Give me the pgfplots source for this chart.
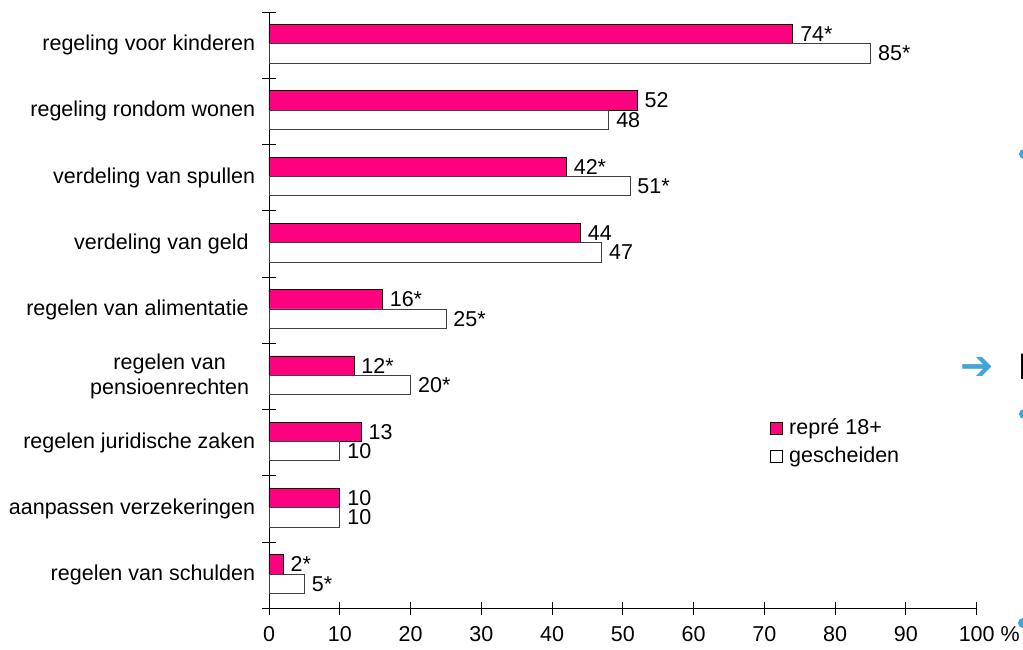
\documentclass[border=0pt]{standalone}
\usepackage{fontspec}
\setmainfont{Liberation Sans}
\newfontfamily\symfont{DejaVu Sans}
\usepackage{pgfplots}
\pgfplotsset{compat=1.18}
\definecolor{barpink}{RGB}{255,0,128}
\definecolor{slideblue}{RGB}{66,165,218}
\pgfplotsset{
  legsq/.style={legend image code/.code={
    \draw[##1,draw=black,line width=0.8pt] (0pt,-6pt) rectangle (12pt,6pt);
    \path (17pt,0pt);}}
}
\begin{document}
\fontsize{21.5}{25}\selectfont
\begin{tikzpicture}[x=1pt,y=1pt]
\useasboundingbox (0,0) rectangle (1023,650);
\begin{axis}[
    at={(269pt,41.5pt)}, anchor=south west,
    scale only axis, width=707.7pt, height=596.5pt,
    xbar, bar width=19.3pt,
    xmin=0, xmax=100, ymin=-0.5, ymax=8.5,
    axis x line=bottom, axis y line=left,
    axis line style={-, line width=0.9pt},
    xtick={0,10,...,100},
    xticklabels={0,10,20,30,40,50,60,70,80,90,100\rlap{\ \%}},
    xticklabel style={yshift=-4pt},
    ytick={-0.5,0.5,1.5,2.5,3.5,4.5,5.5,6.5,7.5,8.5},
    y tick label as interval,
    yticklabels={regelen van schulden, aanpassen verzekeringen,
      regelen juridische zaken,
      {regelen van\hspace*{6pt}\\pensioenrechten\hspace*{6pt}},
      regelen van alimentatie\hspace*{6.5pt}, verdeling van geld\hspace*{6.5pt},
      verdeling van spullen, regeling rondom wonen, regeling voor kinderen},
    yticklabel style={align=center},
    tick align=center, major tick length=13pt,
    tick style={black, line width=0.9pt},
    point meta=explicit symbolic,
    nodes near coords,
    every node near coord/.append style={anchor=west, black},
    legend style={at={(0.704,0.323)}, anchor=north west, draw=none, fill=none,
      row sep=7pt, nodes={inner sep=1pt}},
    legend cell align=left,
]
\addplot[fill=barpink, draw=black, line width=0.8pt, bar shift=10.9pt, legsq]
  coordinates {(2,0) [2*] (10,1) [10] (13,2) [13] (12,3) [12*] (16,4) [16*]
               (44,5) [44] (42,6) [42*] (52,7) [52] (74,8) [74*]};
\addlegendentry{repré 18+}
\addplot[fill=white, draw=black!75, line width=0.8pt, bar shift=-8.4pt, legsq]
  coordinates {(5,0) [5*] (10,1) [10] (10,2) [10] (20,3) [20*] (25,4) [25*]
               (47,5) [47] (51,6) [51*] (48,7) [48] (85,8) [85*]};
\addlegendentry{gescheiden}
\end{axis}
% slide remnants at the right edge
\fill[slideblue] (1024,496) circle (5);
\fill[slideblue] (1024,236) circle (5);
\fill[slideblue] (1023,27) circle (5);
\node[font=\symfont\fontsize{40}{40}\selectfont, text=slideblue] at (977,282) {➔};
\node[anchor=base west, inner sep=0pt, font=\fontsize{37}{37}\selectfont] at (1018,270) {B};
\end{tikzpicture}
\end{document}
